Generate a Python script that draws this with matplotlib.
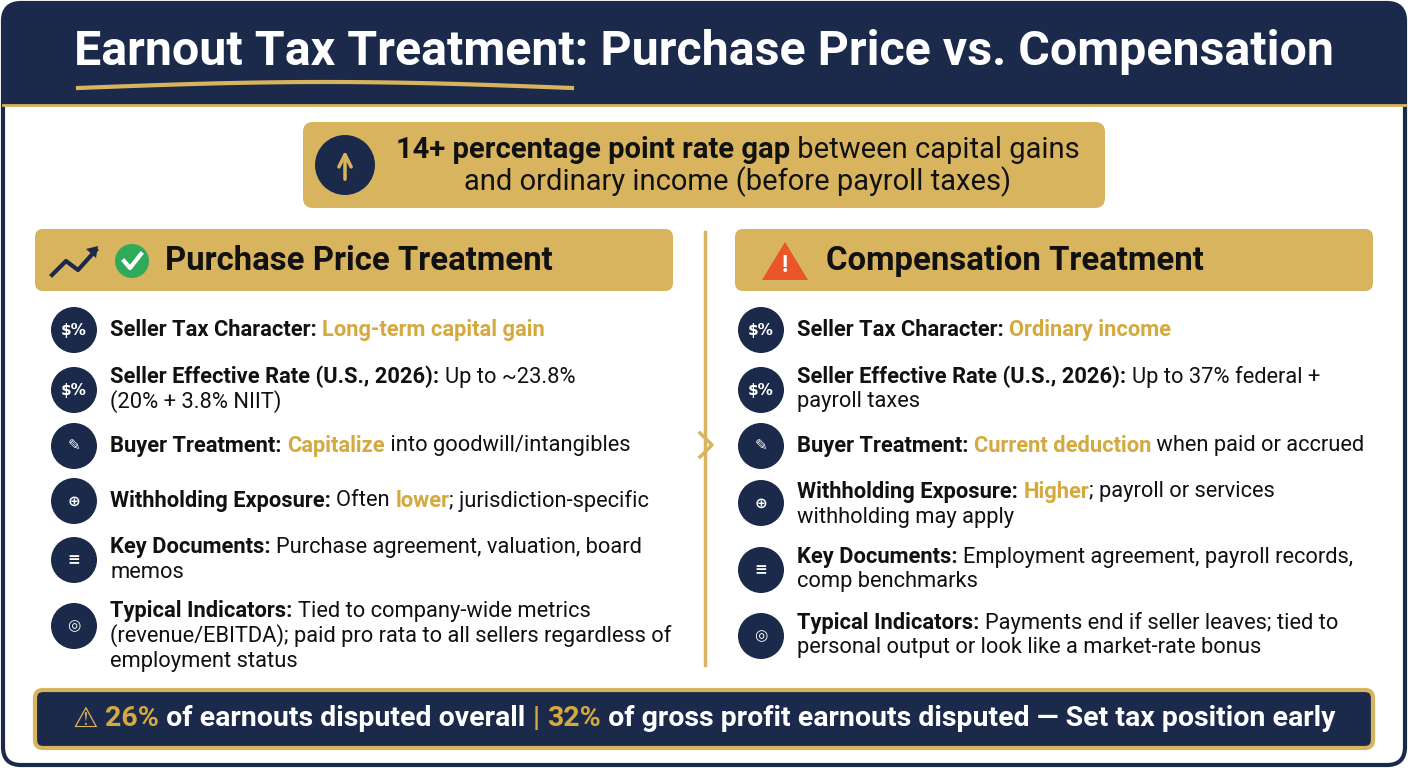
import matplotlib
matplotlib.use("Agg")
import matplotlib.pyplot as plt
from matplotlib.patches import FancyBboxPatch, Circle, Polygon
import numpy as np

plt.rcParams['font.family'] = ['Roboto', 'DejaVu Sans']

NAVY = '#1b2a4a'
GOLD = '#d8b45f'
GOLDTXT = '#d4a93f'
BLACK = '#111111'

title = "Earnout Tax Treatment: Purchase Price vs. Compensation"
banner = [[("14+ percentage point rate gap", 'b'), (" between capital gains", 'n')],
          [("and ordinary income (before payroll taxes)", 'n')]]
left_head = "Purchase Price Treatment"
right_head = "Compensation Treatment"

left_rows = [
    [[("Seller Tax Character: ", 'b'), ("Long-term capital gain", 'g')]],
    [[("Seller Effective Rate (U.S., 2026): ", 'b'), ("Up to ~23.8%", 'n')], [("(20% + 3.8% NIIT)", 'n')]],
    [[("Buyer Treatment: ", 'b'), ("Capitalize", 'g'), (" into goodwill/intangibles", 'n')]],
    [[("Withholding Exposure: ", 'b'), ("Often ", 'n'), ("lower", 'g'), ("; jurisdiction-specific", 'n')]],
    [[("Key Documents: ", 'b'), ("Purchase agreement, valuation, board", 'n')], [("memos", 'n')]],
    [[("Typical Indicators: ", 'b'), ("Tied to company-wide metrics", 'n')],
     [("(revenue/EBITDA); paid pro rata to all sellers regardless of", 'n')], [("employment status", 'n')]],
]
right_rows = [
    [[("Seller Tax Character: ", 'b'), ("Ordinary income", 'g')]],
    [[("Seller Effective Rate (U.S., 2026): ", 'b'), ("Up to 37% federal +", 'n')], [("payroll taxes", 'n')]],
    [[("Buyer Treatment: ", 'b'), ("Current deduction", 'g'), (" when paid or accrued", 'n')]],
    [[("Withholding Exposure: ", 'b'), ("Higher", 'g'), ("; payroll or services", 'n')], [("withholding may apply", 'n')]],
    [[("Key Documents: ", 'b'), ("Employment agreement, payroll records,", 'n')], [("comp benchmarks", 'n')]],
    [[("Typical Indicators: ", 'b'), ("Payments end if seller leaves; tied to", 'n')],
     [("personal output or look like a market-rate bonus", 'n')]],
]
left_icon_y = [330, 390, 446, 501, 560, 626]
left_text_top = [330, 377, 446, 501, 547, 611]
right_icon_y = [330, 390, 446, 503, 570, 636]
right_text_top = [330, 377, 446, 492, 557, 623]
icon_glyphs = ["$%", "$%", "✎", "⊕", "≡", "◎"]
footer = [("⚠ ", 'gw'), ("26%", 'g'), (" of earnouts disputed overall ", 'w'), ("|", 'g'),
          (" ", 'w'), ("32%", 'g'), (" of gross profit earnouts disputed — Set tax position early", 'w')]

fig = plt.figure(figsize=(14.08, 7.68), dpi=100)
ax = fig.add_axes([0, 0, 1, 1])
ax.set_xlim(0, 1408)
ax.set_ylim(768, 0)
ax.axis('off')
r = fig.canvas.get_renderer()

def rbox(x0, y0, x1, y1, fc, ec='none', lw=0, rad=8, z=1):
    ax.add_patch(FancyBboxPatch((x0 + rad, y0 + rad), x1 - x0 - 2 * rad, y1 - y0 - 2 * rad,
                                boxstyle=f"round,pad={rad}", fc=fc, ec=ec, lw=lw, zorder=z))

def segs(x, y, parts, size, ha='left'):
    styles = {'b': (BLACK, 'bold'), 'g': (GOLDTXT, 'bold'), 'n': (BLACK, 'normal'),
              'w': ('white', 'bold'), 'gw': (GOLD, 'bold')}
    made = []
    cx = x
    for t, s in parts:
        c, w = styles[s]
        tx = ax.text(cx, y, t, fontsize=size, color=c, fontweight=w, va='center', ha='left', zorder=5)
        bb = tx.get_window_extent(renderer=r)
        cx += bb.width
        made.append(tx)
    if ha == 'center':
        shift = (cx - x) / 2
        for tx in made:
            tx.set_x(tx.get_position()[0] - shift)

# outer frame
rbox(3, 3, 1405, 765, 'white', NAVY, 3, rad=18, z=0)
ax.add_patch(FancyBboxPatch((21, 21), 1366, 66, boxstyle="round,pad=18", fc=NAVY, ec='none', zorder=1))
ax.fill_between([3, 1405], 60, 105, color=NAVY, zorder=1)
ax.plot([3, 1405], [105, 105], color=GOLD, lw=2, zorder=2)
ax.text(704, 52, title, fontsize=34.8, color='white', fontweight='bold', ha='center', va='center', zorder=5)
xs = np.linspace(78, 572, 50)
ax.plot(xs, 88 - 6 * np.sin((xs - 78) / 494 * np.pi), color=GOLD, lw=3, zorder=5)

# banner
rbox(303, 122, 1105, 208, GOLD, rad=10)
ax.add_patch(Circle((345, 165), 30, fc=NAVY, zorder=3))
ax.annotate('', xy=(345, 148), xytext=(345, 182), zorder=4,
            arrowprops=dict(arrowstyle='->', color=GOLD, lw=2.5, mutation_scale=22))
segs(738, 150, banner[0], 21, ha='center')
segs(738, 182, banner[1], 21, ha='center')

# column headers
rbox(35, 229, 673, 291, GOLD, rad=8)
rbox(735, 229, 1373, 291, GOLD, rad=8)
ax.plot([52, 66, 78, 96], [275, 261, 270, 250], color=NAVY, lw=3, zorder=4)
ax.add_patch(Polygon([[98, 246], [86, 249], [96, 258]], fc=NAVY, zorder=4))
ax.add_patch(Circle((132, 261), 17, fc='#2eaa5a', zorder=4))
ax.plot([124, 130, 141], [261, 268, 254], color='white', lw=3, zorder=5)
ax.text(165, 261, left_head, fontsize=23.7, fontweight='bold', color=BLACK, va='center', zorder=5)
ax.add_patch(Polygon([[785, 242], [762, 280], [808, 280]], fc='#e8562a', zorder=4, joinstyle='round'))
ax.text(785, 266, "!", fontsize=17, fontweight='bold', color='white', ha='center', va='center', zorder=5)
ax.text(826, 261, right_head, fontsize=23.7, fontweight='bold', color=BLACK, va='center', zorder=5)

# divider
ax.plot([705, 705], [232, 665], color=GOLD, lw=2.5, zorder=2)
ax.plot([700, 712, 700], [433, 445, 457], color=GOLD, lw=2.5, zorder=2)

def column(icon_x, text_x, rows, ys, tops):
    for row, yc, top, g in zip(rows, ys, tops, icon_glyphs):
        ax.add_patch(Circle((icon_x, yc), 23, fc=NAVY, zorder=3))
        ax.text(icon_x, yc, g, fontsize=11, color='white', fontweight='bold', ha='center', va='center',
                family=['DejaVu Sans'], zorder=4)
        for i, line in enumerate(row):
            segs(text_x, top + i * 25, line, 15.75)

column(74, 110, left_rows, left_icon_y, left_text_top)
column(761, 797, right_rows, right_icon_y, right_text_top)

# footer
rbox(35, 690, 1373, 748, NAVY, GOLD, 3, rad=8)
segs(704, 719, footer, 20.5, ha='center')

fig.savefig('out.png', dpi=100)
